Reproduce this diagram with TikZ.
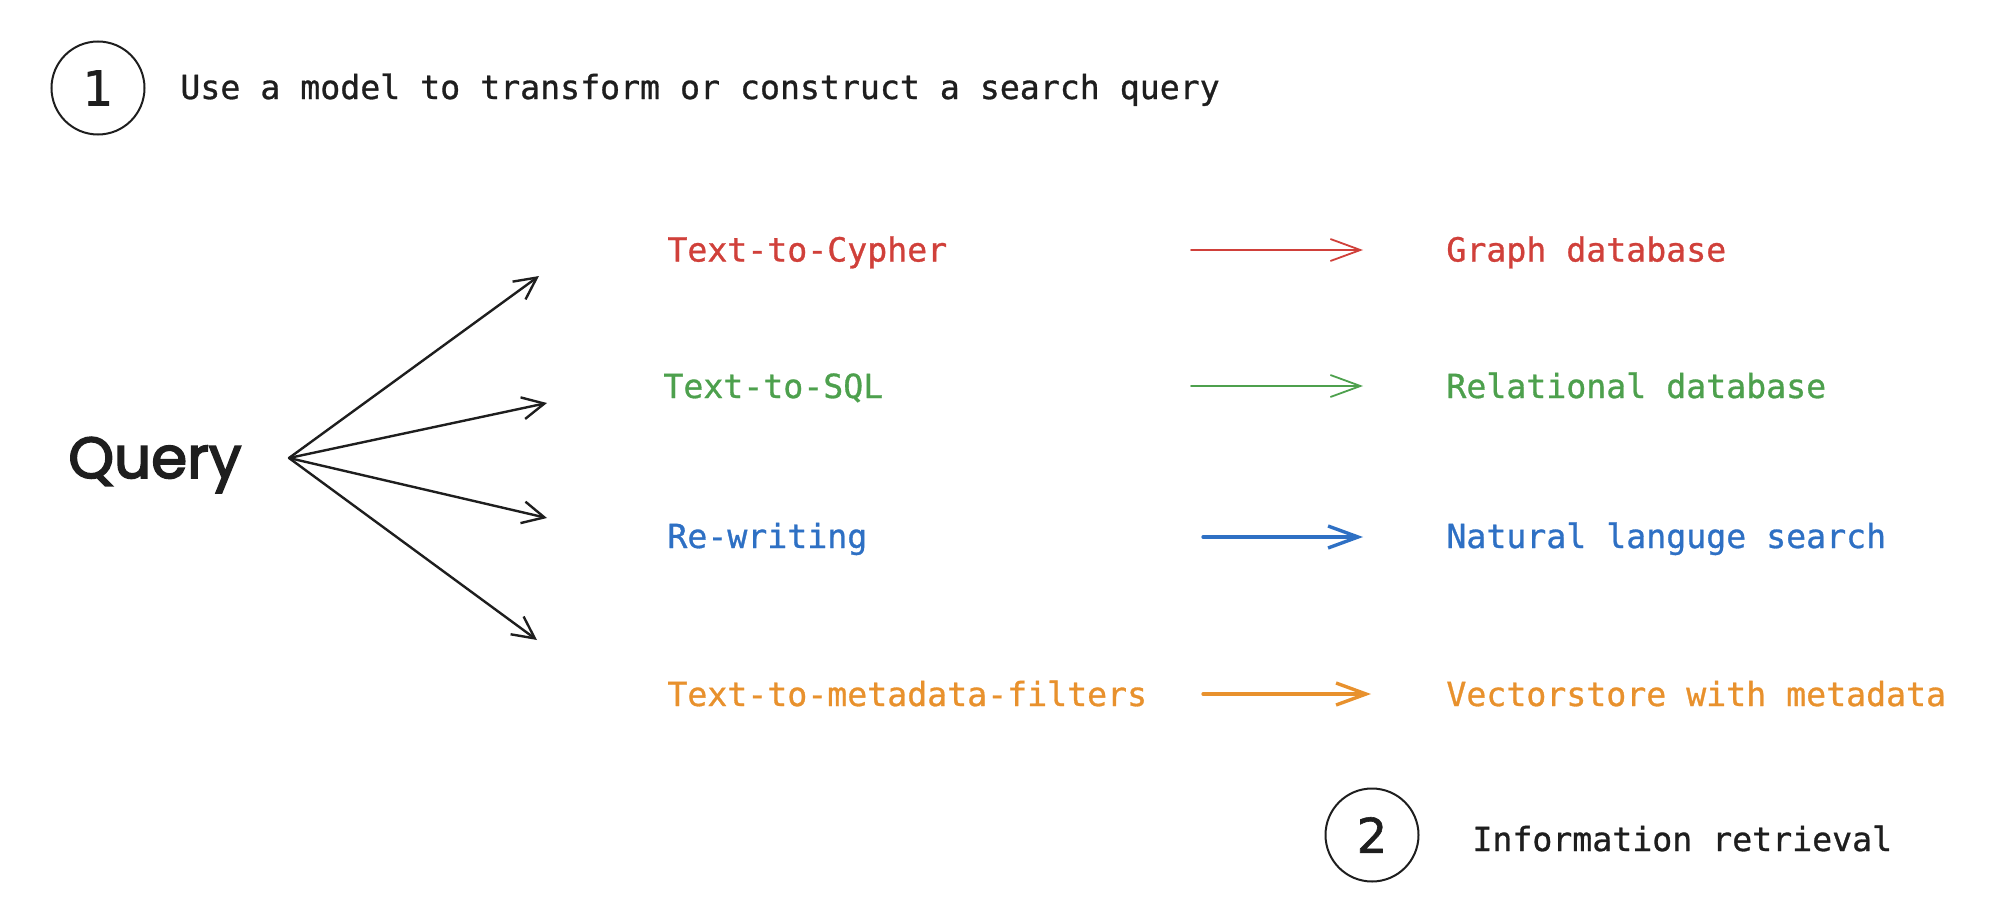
\documentclass[tikz,border=0pt]{standalone}
\usepackage{fontspec}
\usetikzlibrary{arrows.meta}
\newfontfamily\lblfont{DejaVu Sans Mono}[BoldFont={DejaVu Sans Mono}, BoldFeatures={FakeBold=0.9}]
\newfontfamily\qfont{Poppins}[BoldFont={Poppins}, BoldFeatures={FakeBold=3}]
\newfontfamily\digitfont{DejaVu Sans}[BoldFont={DejaVu Sans}, BoldFeatures={FakeBold=1.2}]
\definecolor{ink}{HTML}{1E1E1E}
\definecolor{cred}{HTML}{D0403A}
\definecolor{cgreen}{HTML}{4DA04D}
\definecolor{cblue}{HTML}{2E70C4}
\definecolor{corange}{HTML}{E8912D}
\begin{document}
\begin{tikzpicture}[x=0.5pt,y=-0.5pt,
  lbl/.style={font=\fontsize{16.6}{20}\selectfont\lblfont\bfseries, inner sep=0pt, anchor=base west},
  num/.style={circle, draw=ink, line width=1pt, minimum size=46.5pt, inner sep=0pt,
              font=\fontsize{24}{28}\selectfont\digitfont\bfseries, text=ink},
  fan/.style={draw=ink, line width=1.2pt, line cap=round, -{Straight Barb[length=11pt,width=11pt]}},
  midthin/.style={line width=0.9pt, line cap=round, -{Straight Barb[length=15pt,width=11pt]}},
  midthick/.style={line width=1.7pt, line cap=round, -{Straight Barb[length=15pt,width=11pt]}}]
\useasboundingbox (0,0) rectangle (1996,920);

% step 1 header
\node[num] (n1) at (98,88) {1};
\node[lbl, text=ink] (title) at (180,99) {Use a model to transform or construct a search query};

% Query
\node[inner sep=0pt, anchor=base west, font=\fontsize{29}{33}\selectfont\qfont\bfseries, text=ink] (query) at (68,478) {Query};
\coordinate (qo) at (289,458);
\coordinate (f1) at (539,276);
\coordinate (f2) at (547,403);
\coordinate (f3) at (547,518);
\coordinate (f4) at (537,640);
\draw[fan] (qo) -- (f1);
\draw[fan] (qo) -- (f2);
\draw[fan] (qo) -- (f3);
\draw[fan] (qo) -- (f4);

% left labels
\node[lbl, text=cred]    (l1) at (667,261.5) {Text-to-Cypher};
\node[lbl, text=cgreen]  (l2) at (663,398) {Text-to-SQL};
\node[lbl, text=cblue]   (l3) at (667,548) {Re-writing};
\node[lbl, text=corange] (l4) at (667,706) {Text-to-metadata-filters};

% right labels
\node[lbl, text=cred]    (r1) at (1446,261.5) {Graph database};
\node[lbl, text=cgreen]  (r2) at (1446,398) {Relational database};
\node[lbl, text=cblue]   (r3) at (1446,548) {Natural languge search};
\node[lbl, text=corange] (r4) at (1446,706) {Vectorstore with metadata};

% middle arrows
\coordinate (a1s) at (1191,250); \coordinate (a1e) at (1363,250);
\coordinate (a2s) at (1191,386); \coordinate (a2e) at (1363,386);
\coordinate (a3s) at (1203,537); \coordinate (a3e) at (1363,537);
\coordinate (a4s) at (1203,694); \coordinate (a4e) at (1371,694);
\draw[midthin, draw=cred]     (a1s) -- (a1e);
\draw[midthin, draw=cgreen]   (a2s) -- (a2e);
\draw[midthick, draw=cblue]   (a3s) -- (a3e);
\draw[midthick, draw=corange] (a4s) -- (a4e);

% step 2
\node[num] (n2) at (1372,835) {2};
\node[lbl, text=ink] (info) at (1472,851) {Information retrieval};
\end{tikzpicture}
\end{document}
